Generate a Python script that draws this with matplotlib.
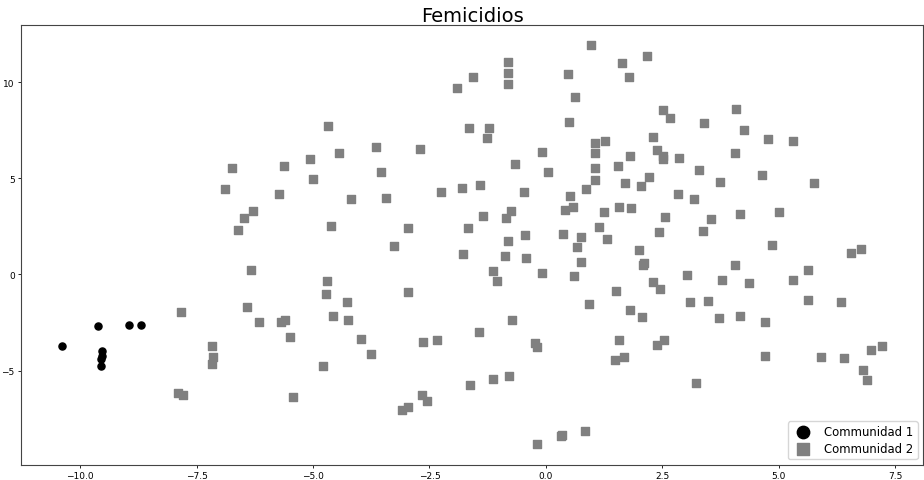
import matplotlib
matplotlib.use("Agg")
import matplotlib.pyplot as plt
import numpy as np

# Communidad 1 (black circles)
c1_x = [-10.39, -9.61, -8.96, -8.69, -9.53, -9.52, -9.56, -9.56]
c1_y = [-3.72, -2.69, -2.64, -2.64, -3.97, -4.24, -4.37, -4.77]

# Communidad 2 (gray squares)
c2_x = [-6.74, -6.88, -6.29, -6.48, -6.62, -5.62, -5.72, -5.06, -5.01, -6.33,
        -6.42, -6.15, -5.68, -5.60, -5.49, -7.84, -7.16, -7.14, -7.16, -7.89,
        -7.80, -5.43, -4.78, 0.97, 1.64, -0.81, -0.81, -0.81, -1.57, -1.90,
        0.48, 0.63, 0.49, -4.67, -1.64, -1.21, -1.27, 1.06, 1.27, 1.05,
        -3.64, -2.70, -4.45, -0.08, -0.67, 0.04, 1.05, 1.54, -3.54, 1.06,
        0.87, -1.42, -1.80, -2.26, -0.47, 0.52, -4.19, -3.44, 0.41, 0.58,
        -0.74, -0.86, -1.36, 1.24, 1.57, -4.62, -2.96, -1.67, 1.14, -0.44,
        -0.81, 0.37, 0.75, 1.31, -3.26, 0.66, -1.77, -0.87, -0.42, 0.75,
        -1.14, -1.05, -0.08, 0.60, 1.50, 0.93, -4.70, -4.73, -4.28, -2.96,
        -4.56, -4.25, -0.72, -3.96, -3.76, -2.63, -2.34, -1.43, -0.23, -0.20,
        1.57, 1.48, -1.63, -1.14, -0.79, -2.65, -2.55, -3.08, -2.96, 0.84,
        0.32, 0.35, -0.19, 2.18, 1.78, 2.52, 2.66, 3.39, 4.09, 4.26,
        4.76, 5.30, 2.30, 2.38, 2.52, 2.51, 2.86, 1.80, 1.69, 2.04,
        2.22, 3.29, 4.07, 4.64, 3.74, 5.75, 2.83, 3.18, 1.82, 2.56,
        3.54, 4.17, 5.00, 2.44, 3.37, 4.85, 6.76, 2.00, 6.55, 2.08,
        2.11, 4.07, 3.03, 3.79, 4.36, 5.30, 5.63, 2.31, 2.45, 3.10,
        3.48, 5.63, 6.33, 1.80, 2.06, 3.71, 4.17, 4.70, 2.38, 2.54,
        1.67, 4.70, 5.91, 6.41, 6.98, 7.21, 6.81, 6.89, 3.22]
c2_y = [5.54, 4.46, 3.29, 2.94, 2.31, 5.63, 4.19, 6.02, 4.95, 0.23,
        -1.69, -2.45, -2.45, -2.38, -3.25, -1.97, -3.72, -4.31, -4.67, -6.18,
        -6.28, -6.37, -4.77, 11.93, 10.98, 11.05, 10.49, 9.92, 10.29, 9.70,
        10.41, 9.25, 7.93, 7.72, 7.63, 7.63, 7.08, 6.84, 6.96, 6.30,
        6.63, 6.51, 6.32, 6.37, 5.75, 5.33, 5.55, 5.63, 5.33, 4.90,
        4.43, 4.67, 4.48, 4.29, 4.29, 4.07, 3.94, 3.98, 3.35, 3.53,
        3.30, 2.94, 3.03, 3.23, 3.49, 2.51, 2.42, 2.42, 2.47, 2.07,
        1.73, 2.12, 1.95, 1.85, 1.50, 1.41, 1.08, 0.95, 0.86, 0.67,
        0.17, -0.35, 0.06, -0.08, -0.84, -1.52, -0.34, -1.00, -1.41, -0.93,
        -2.14, -2.37, -2.37, -3.35, -4.13, -3.49, -3.39, -3.01, -3.55, -3.79,
        -3.41, -4.45, -5.73, -5.42, -5.26, -6.28, -6.58, -7.06, -6.87, -8.12,
        -8.38, -8.33, -8.83, 11.36, 10.29, 8.54, 8.15, 7.89, 8.61, 7.51,
        7.03, 6.93, 7.13, 6.47, 6.01, 6.15, 6.07, 6.18, 4.74, 4.62,
        5.05, 5.42, 6.33, 5.16, 4.81, 4.77, 4.20, 3.94, 3.46, 2.99,
        2.87, 3.16, 3.25, 2.23, 2.28, 1.52, 1.33, 1.27, 1.13, 0.51,
        0.60, 0.48, -0.03, -0.30, -0.46, -0.27, 0.25, -0.39, -0.75, -1.41,
        -1.36, -1.31, -1.45, -1.85, -2.21, -2.26, -2.16, -2.49, -3.67, -3.39,
        -4.31, -4.22, -4.31, -4.34, -3.94, -3.70, -4.97, -5.49, -5.63]

fig = plt.figure(figsize=(9.24, 4.81), dpi=100)
ax = fig.add_axes([0.0227, 0.0318, 0.9763, 0.9142])

ax.scatter(c1_x, c1_y, s=26, c="black", marker="o", label="Communidad 1")
ax.scatter(c2_x, c2_y, s=26, c="gray", marker="s", label="Communidad 2")

ax.set_xlim(-11.27, 8.10)
ax.set_ylim(-9.89, 12.97)
ax.set_xticks([-10.0, -7.5, -5.0, -2.5, 0.0, 2.5, 5.0, 7.5])
ax.set_yticks([-5, 0, 5, 10])
ax.tick_params(labelsize=6.5, length=2.5, width=0.6, pad=2)
for sp in ax.spines.values():
    sp.set_linewidth(0.8)
    sp.set_color("#444444")

ax.set_title("Femicidios", fontsize=14, pad=2)
ax.legend(loc="lower right", fontsize=8.4, markerscale=1.75,
          handletextpad=0.8, labelspacing=0.35, borderaxespad=0.45,
          borderpad=0.35)

fig.savefig("out.png", dpi=100)
